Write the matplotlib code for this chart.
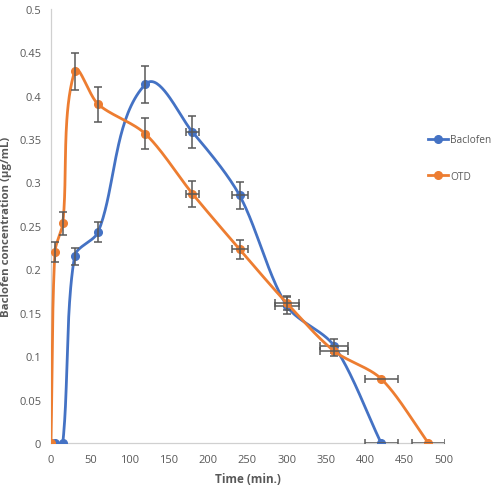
import numpy as np
import matplotlib
matplotlib.use("Agg")
import matplotlib.pyplot as plt
from matplotlib.lines import Line2D

# Data
bac_t = [0, 5, 15, 30, 60, 120, 180, 240, 300, 360, 420]
bac_c = [0, 0, 0, 0.215, 0.243, 0.413, 0.358, 0.285, 0.158, 0.112, 0]
bac_yerr = [0, 0, 0, 0.010, 0.012, 0.021, 0.018, 0.015, 0.010, 0.008, 0]
bac_xerr = [0, 0, 0, 0, 0, 0, 8, 10, 15, 18, 21]

otd_t = [0, 5, 15, 30, 60, 120, 180, 240, 300, 360, 420, 480]
otd_c = [0, 0.220, 0.253, 0.428, 0.390, 0.356, 0.287, 0.223, 0.161, 0.106, 0.074, 0]
otd_yerr = [0, 0.012, 0.013, 0.021, 0.020, 0.018, 0.015, 0.011, 0.008, 0.006, 0, 0]
otd_xerr = [0, 0, 0, 0, 0, 0, 8, 10, 15, 18, 21, 21]

BLUE = "#4472C4"
ORANGE = "#ED7D31"
GREY = "#595959"

fig = plt.figure(figsize=(5.0, 4.89), dpi=100)
ax = fig.add_axes([0.102, 0.092, 0.786, 0.888])
ax.set_xlim(0, 500)
ax.set_ylim(0, 0.5)


def smooth(ax, xs, ys, n=40, s=0.3):
    # bezier smoothing in display space, tangent length tied to segment length
    pts = ax.transData.transform(np.column_stack([xs, ys]))
    P = np.vstack([pts[0], pts, pts[-1]])

    def unit(v):
        nrm = np.hypot(*v)
        return v / nrm if nrm > 0 else v * 0

    out = []
    for i in range(1, len(P) - 2):
        p0, p1, p2, p3 = P[i - 1], P[i], P[i + 1], P[i + 2]
        L = np.hypot(*(p2 - p1))
        c1 = p1 + unit(p2 - p0) * L * s
        c2 = p2 - unit(p3 - p1) * L * s
        t = np.linspace(0, 1, n)[:, None]
        seg = ((1 - t) ** 3) * p1 + 3 * ((1 - t) ** 2) * t * c1 + 3 * (1 - t) * t ** 2 * c2 + t ** 3 * p2
        out.append(seg if i == 1 else seg[1:])
    curve = np.vstack(out)
    return ax.transData.inverted().transform(curve)


for t, c, xe, ye, col, z in [(bac_t, bac_c, bac_xerr, bac_yerr, BLUE, 3),
                              (otd_t, otd_c, otd_xerr, otd_yerr, ORANGE, 5)]:
    cur = smooth(ax, t, c)
    ax.plot(cur[:, 0], cur[:, 1], color=col, lw=2.0, zorder=z, solid_capstyle="round")
    ax.plot(t, c, "o", color=col, ms=5.5, zorder=z + 0.5)
    xe_a = np.array(xe, float)
    ye_a = np.array(ye, float)
    ax.errorbar(t, c, xerr=np.where(xe_a > 0, xe_a, np.nan), yerr=np.where(ye_a > 0, ye_a, np.nan),
                fmt="none", ecolor=GREY, elinewidth=1.1, capsize=2.6, capthick=1.1, zorder=z + 1)

for s in ["top", "right"]:
    ax.spines[s].set_visible(False)
ax.spines["left"].set_color("#D0D0D0")
ax.spines["bottom"].set_color("#D0D0D0")
ax.spines["left"].set_linewidth(0.9)
ax.spines["bottom"].set_linewidth(0.9)
ax.tick_params(length=0, colors="#595959", labelsize=8)
ax.tick_params(axis="x", pad=8)
ax.tick_params(axis="y", pad=7)

ax.set_xticks(np.arange(0, 501, 50))
ax.set_yticks(np.arange(0, 0.501, 0.05))
ax.set_yticklabels(["0", "0.05", "0.1", "0.15", "0.2", "0.25", "0.3", "0.35", "0.4", "0.45", "0.5"])
for lab in ax.get_xticklabels() + ax.get_yticklabels():
    lab.set_family("Open Sans")

ax.set_xlabel("Time (min.)", fontsize=8.5, fontweight="bold", color="#595959", family="Open Sans", labelpad=5)
ax.set_ylabel("Baclofen concentration (µg/mL)", fontsize=8.2, fontweight="bold", color="#595959",
              family="Open Sans")
ax.yaxis.set_label_coords(-0.099, 0.5)

handles = [Line2D([], [], color=BLUE, lw=2, marker="o", ms=5.5),
           Line2D([], [], color=ORANGE, lw=2, marker="o", ms=5.5)]
fig.legend(handles, ["Baclofen", "OTD"], loc="upper left", bbox_to_anchor=(0.838, 0.742),
           frameon=False, labelspacing=2.5, handlelength=2.0, handletextpad=0.15,
           labelcolor="#595959", prop={"family": "Open Sans", "size": 7.3})

fig.savefig("out.png", dpi=100)
